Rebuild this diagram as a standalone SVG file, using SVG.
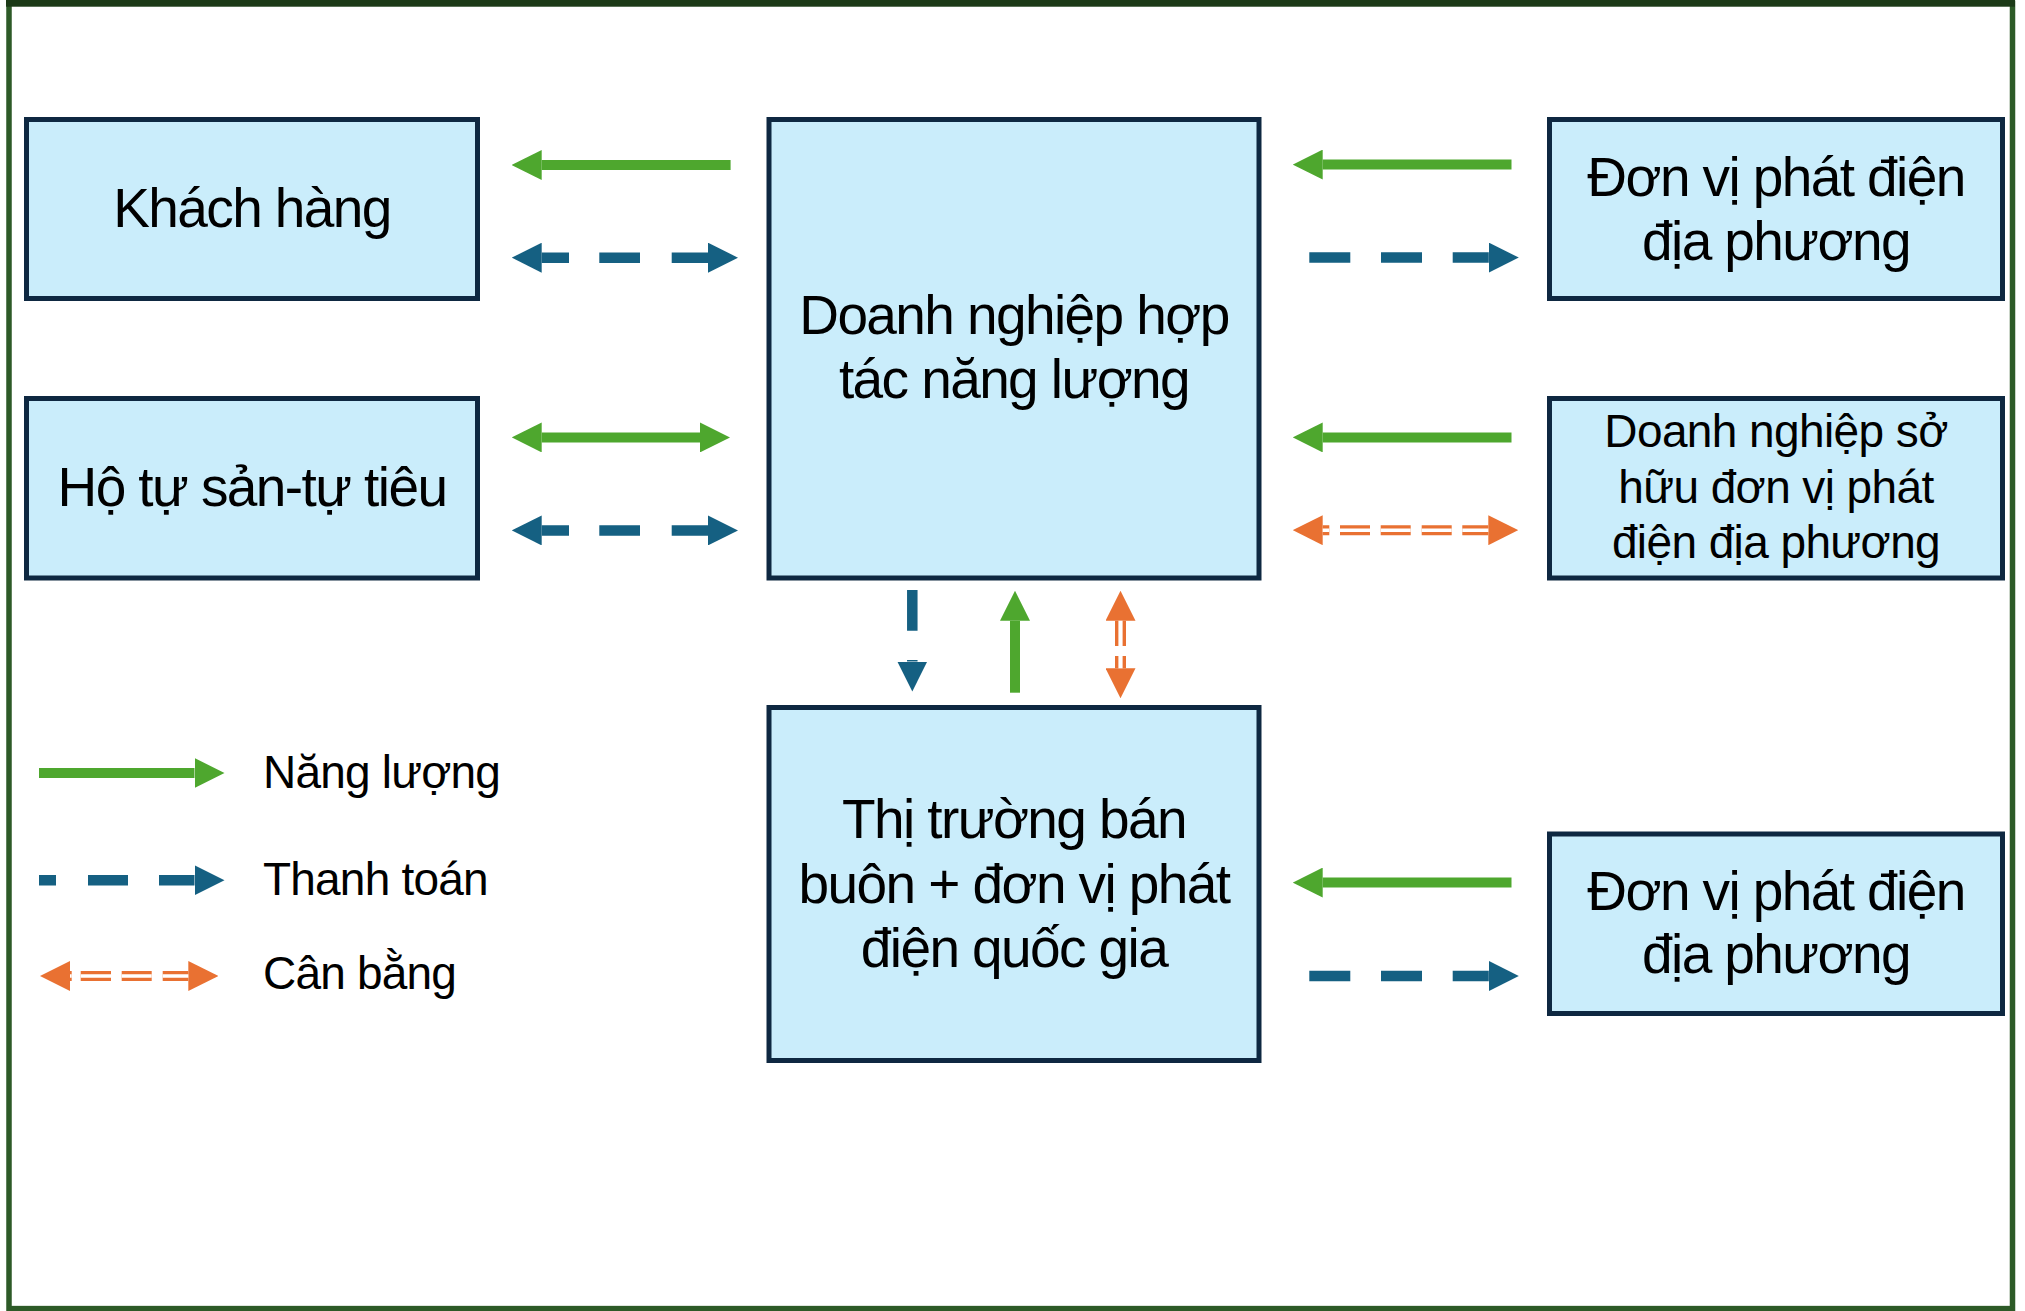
<svg xmlns="http://www.w3.org/2000/svg" width="2025" height="1311" viewBox="0 0 2025 1311">
  <style>
    .box { fill: #caedfb; stroke: #0e2841; stroke-width: 5; }
    .t { font-family: "Liberation Sans", Arial, sans-serif; fill: #000; text-anchor: middle; }
    .big { font-size: 55px; letter-spacing: -1.6px; }
    .mid { font-size: 46px; letter-spacing: -0.6px; }
    .leg { font-family: "Liberation Sans", Arial, sans-serif; fill: #000; font-size: 46px; letter-spacing: -0.8px; }
    .g { fill: none; stroke: #4ea72e; stroke-width: 10; }
    .b { fill: none; stroke: #156082; stroke-width: 10.5; }
    .o { fill: none; stroke: #e97132; stroke-width: 10; }
    .ow { fill: none; stroke: #ffffff; stroke-width: 3.4; }
    .ovw { fill: none; stroke: #ffffff; stroke-width: 4.2; }
  </style>
  <defs>
    <marker id="ag" markerUnits="userSpaceOnUse" markerWidth="30" markerHeight="30" viewBox="0 0 30 30" refX="0" refY="15" orient="auto-start-reverse">
      <path d="M0,0 L30,15 L0,30 Z" fill="#4ea72e"/>
    </marker>
    <marker id="ab" markerUnits="userSpaceOnUse" markerWidth="30" markerHeight="30" viewBox="0 0 30 30" refX="0" refY="15" orient="auto-start-reverse">
      <path d="M0,0 L30,15 L0,30 Z" fill="#156082"/>
    </marker>
    <marker id="ao" markerUnits="userSpaceOnUse" markerWidth="30" markerHeight="30" viewBox="0 0 30 30" refX="0" refY="15" orient="auto-start-reverse">
      <path d="M0,0 L30,15 L0,30 Z" fill="#e97132"/>
    </marker>
  </defs>

  <rect x="0" y="0" width="2025" height="1311" fill="#ffffff"/>
  <!-- frame -->
  <rect x="9" y="3.3" width="2003.5" height="1305.3" fill="none" stroke="#2d5a27" stroke-width="5.5"/>
  <rect x="6" y="0" width="2009" height="6.7" fill="#1c3a17"/>

  <!-- nodes -->
  <g id="node-khach-hang">
    <rect class="box" x="26.5" y="119.5" width="451" height="179"/>
    <text class="t big" x="252" y="227">Khách hàng</text>
  </g>
  <g id="node-ho-tu-san">
    <rect class="box" x="26.5" y="398.5" width="451" height="179.5"/>
    <text class="t big" x="252" y="506">Hộ tự sản-tự tiêu</text>
  </g>
  <g id="node-doanh-nghiep-hop-tac">
    <rect class="box" x="769" y="119.5" width="490" height="458.5"/>
    <text class="t big" x="1014" y="333.7">Doanh nghiệp hợp</text>
    <text class="t big" x="1014" y="398">tác năng lượng</text>
  </g>
  <g id="node-don-vi-phat-dien-1">
    <rect class="box" x="1549.5" y="119.5" width="453" height="179"/>
    <text class="t big" x="1776" y="196">Đơn vị phát điện</text>
    <text class="t big" x="1776" y="259.5">địa phương</text>
  </g>
  <g id="node-doanh-nghiep-so-huu">
    <rect class="box" x="1549.5" y="398.5" width="453" height="179.5"/>
    <text class="t mid" x="1776" y="447">Doanh nghiệp sở</text>
    <text class="t mid" x="1776" y="502.5">hữu đơn vị phát</text>
    <text class="t mid" x="1776" y="558">điện địa phương</text>
  </g>
  <g id="node-thi-truong">
    <rect class="box" x="769" y="707.5" width="490" height="353"/>
    <text class="t big" x="1014" y="838">Thị trường bán</text>
    <text class="t big" x="1014" y="902.5">buôn + đơn vị phát</text>
    <text class="t big" x="1014" y="967">điện quốc gia</text>
  </g>
  <g id="node-don-vi-phat-dien-2">
    <rect class="box" x="1549.5" y="834" width="453" height="179.5"/>
    <text class="t big" x="1776" y="909.5">Đơn vị phát điện</text>
    <text class="t big" x="1776" y="973">địa phương</text>
  </g>

  <!-- connectors -->
  <g id="connectors">
    <!-- left side -->
    <path class="g" d="M730.6,165 H541.7" marker-end="url(#ag)"/>
    <path class="b" d="M541.7,257.7 H569 M599.3,257.7 H640 M671.7,257.7 H708" marker-start="url(#ab)" marker-end="url(#ab)"/>
    <path class="g" d="M541.7,437.4 H700" marker-start="url(#ag)" marker-end="url(#ag)"/>
    <path class="b" d="M541.7,530.4 H569 M599.3,530.4 H640 M671.7,530.4 H708" marker-start="url(#ab)" marker-end="url(#ab)"/>
    <!-- right side -->
    <path class="g" d="M1511.5,164.6 H1322.7" marker-end="url(#ag)"/>
    <path class="b" d="M1309.3,257.6 H1350.3 M1381,257.6 H1422 M1452.7,257.6 H1488.8" marker-end="url(#ab)"/>
    <path class="g" d="M1511.5,437.4 H1322.7" marker-end="url(#ag)"/>
    <path class="o" d="M1322.7,530.2 H1329.3 M1340,530.2 H1370 M1380.7,530.2 H1410.7 M1421.7,530.2 H1451.7 M1462.3,530.2 H1488.3" marker-start="url(#ao)" marker-end="url(#ao)"/>
    <path class="ow" d="M1322.7,530.2 H1329.3 M1340,530.2 H1370 M1380.7,530.2 H1410.7 M1421.7,530.2 H1451.7 M1462.3,530.2 H1488.3"/>
    <path class="g" d="M1511.5,882.6 H1322.7" marker-end="url(#ag)"/>
    <path class="b" d="M1309.3,976 H1350.3 M1381,976 H1422 M1452.7,976 H1488.8" marker-end="url(#ab)"/>
    <!-- vertical -->
    <path class="b" d="M912.3,590 V630.7 M912.3,660 V661.5" marker-end="url(#ab)"/>
    <path class="g" d="M1015,692.7 V620.7" marker-end="url(#ag)"/>
    <path class="o" style="stroke-width:11" d="M1120.5,620.7 V646 M1120.5,656 V668.3" marker-start="url(#ao)" marker-end="url(#ao)"/>
    <path class="ovw" d="M1120.5,620.7 V646 M1120.5,656 V668.3"/>
  </g>

  <!-- legend -->
  <g id="legend">
    <path class="g" d="M39,773 H194.5" marker-end="url(#ag)"/>
    <path class="b" d="M39,880.2 H56 M88,880.2 H128 M159,880.2 H194.5" marker-end="url(#ab)"/>
    <path class="o" d="M70,976 H71.7 M80.7,976 H111 M121.7,976 H151.7 M162.7,976 H188.3" marker-start="url(#ao)" marker-end="url(#ao)"/>
    <path class="ow" d="M70,976 H71.7 M80.7,976 H111 M121.7,976 H151.7 M162.7,976 H188.3"/>
    <text class="leg" x="263" y="788">Năng lượng</text>
    <text class="leg" x="263" y="894.5">Thanh toán</text>
    <text class="leg" x="263" y="989.4">Cân bằng</text>
  </g>
</svg>
